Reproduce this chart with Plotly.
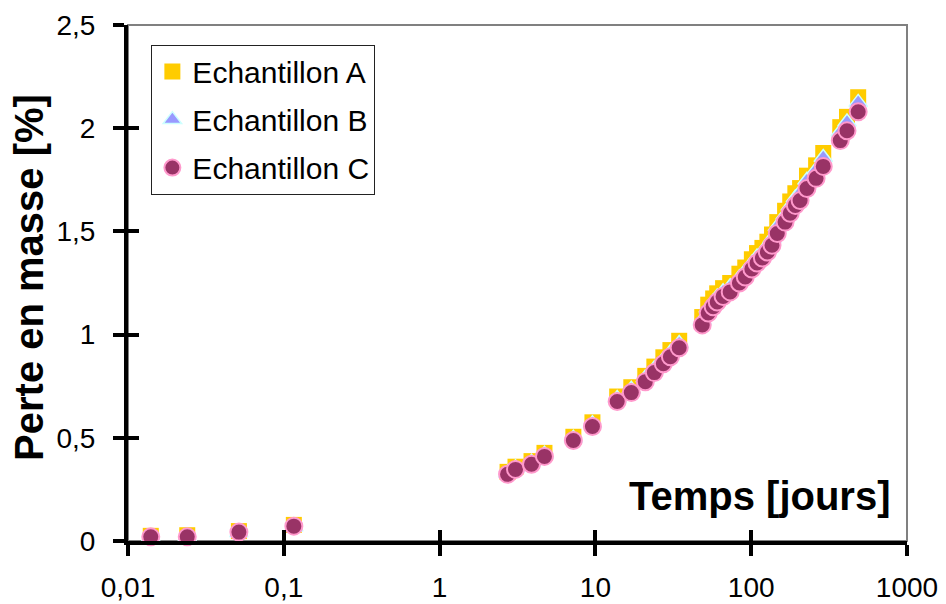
import plotly.graph_objects as go

# ---- data ----
temps = [0.014, 0.024, 0.0515, 0.116, 2.73, 3.07, 3.89, 4.71, 7.22, 9.57,
         13.8, 17.0, 20.9, 23.9, 27.3, 30.3, 34.5, 48.5, 53, 57,
         60.5, 66, 73.3, 84, 91.6, 101, 109, 118, 127, 136,
         147, 165, 178, 192, 206, 228, 261, 290, 373, 412, 486]

perte_A = [0.025, 0.028, 0.048, 0.078, 0.335, 0.36, 0.387, 0.427, 0.505, 0.575,
           0.70, 0.745, 0.80, 0.845, 0.89, 0.925, 0.97, 1.085, 1.145, 1.175,
           1.20, 1.225, 1.25, 1.295, 1.325, 1.365, 1.395, 1.42, 1.45, 1.485,
           1.545, 1.60, 1.645, 1.685, 1.71, 1.77, 1.82, 1.88, 2.005, 2.055, 2.15]

perte_B = [0.018, 0.02, 0.04, 0.068, 0.33, 0.355, 0.382, 0.42, 0.498, 0.568,
           0.69, 0.735, 0.79, 0.835, 0.878, 0.913, 0.957, 1.07, 1.128, 1.158,
           1.182, 1.208, 1.232, 1.276, 1.306, 1.346, 1.376, 1.40, 1.43, 1.465,
           1.523, 1.578, 1.622, 1.662, 1.688, 1.748, 1.798, 1.858, 1.982, 2.03, 2.125]

perte_C = [0.02, 0.02, 0.043, 0.072, 0.323, 0.347, 0.372, 0.41, 0.487, 0.555,
           0.676, 0.719, 0.772, 0.816, 0.859, 0.893, 0.936, 1.047, 1.105, 1.135,
           1.158, 1.185, 1.207, 1.25, 1.279, 1.318, 1.347, 1.371, 1.40, 1.433,
           1.49, 1.545, 1.588, 1.626, 1.65, 1.708, 1.757, 1.815, 1.94, 1.988, 2.08]

series_names = ["Echantillon A", "Echantillon B", "Echantillon C"]

x_tickvals = [0.01, 0.1, 1, 10, 100, 1000]
x_ticktext = ["0,01", "0,1", "1", "10", "100", "1000"]
y_tickvals = [0, 0.5, 1, 1.5, 2, 2.5]
y_ticktext = ["0", "0,5", "1", "1,5", "2", "2,5"]

FONT = "Arial, Liberation Sans, sans-serif"

fig = go.Figure()
fig.add_trace(go.Scatter(x=temps, y=perte_A, mode="markers", name=series_names[0],
                         cliponaxis=False, legendgroup="A",
                         marker=dict(symbol="square", size=16, color="#FFCC00",
                                     line=dict(width=0))))
fig.add_trace(go.Scatter(x=temps, y=perte_B, mode="markers", name=series_names[1],
                         cliponaxis=False, legendgroup="B",
                         marker=dict(symbol="triangle-up", size=16, color="#9999FF",
                                     line=dict(width=1.5, color="#CCFFFF"))))
fig.add_trace(go.Scatter(x=temps, y=perte_C, mode="markers", name=series_names[2],
                         cliponaxis=False, legendgroup="C",
                         marker=dict(symbol="circle", size=17, color="#993366",
                                     line=dict(width=2, color="#FF99CC"))))
# empty trace to activate the overlay axes (inside half of cross ticks)
fig.add_trace(go.Scatter(x=[], y=[], xaxis="x2", yaxis="y2", showlegend=False,
                         hoverinfo="skip"))

axis_common = dict(showgrid=False, zeroline=False, tickcolor="black",
                   tickwidth=4, ticklen=11, automargin=False)

fig.update_layout(
    width=946, height=604,
    margin=dict(l=128, r=39, t=25, b=63),
    paper_bgcolor="white", plot_bgcolor="white",
    font=dict(family=FONT, size=28, color="black"),
    showlegend=True,
    legend=dict(x=0.03, y=0.962, xanchor="left", yanchor="top",
                bgcolor="white", bordercolor="#222222", borderwidth=1,
                tracegroupgap=6, traceorder="grouped",
                font=dict(family=FONT, size=30, color="black")),
    xaxis=dict(type="log", range=[-2, 3], tickvals=x_tickvals, ticktext=x_ticktext,
               ticks="outside", showline=True, linecolor="black", linewidth=4,
               ticklabelstandoff=7, tickfont=dict(size=28), **axis_common),
    yaxis=dict(range=[0, 2.5], tickvals=y_tickvals, ticktext=y_ticktext,
               ticks="outside", showline=True, linecolor="black", linewidth=4,
               ticklabelstandoff=12, tickfont=dict(size=28), **axis_common),
    xaxis2=dict(type="log", range=[-2, 3], tickvals=x_tickvals, overlaying="x",
                anchor="y2", side="bottom", ticks="inside", showline=False,
                showticklabels=False, **axis_common),
    yaxis2=dict(range=[0, 2.5], tickvals=y_tickvals, overlaying="y",
                anchor="x2", side="left", ticks="inside", showline=False,
                showticklabels=False, **axis_common),
    shapes=[dict(type="rect", xref="paper", yref="paper", x0=0, x1=1, y0=0, y1=1,
                 line=dict(color="#808080", width=2), layer="below")],
    annotations=[
        dict(text="<b>Perte en masse [%]</b>", xref="paper", yref="paper",
             x=-0.127, y=0.51, xanchor="center", yanchor="middle",
             textangle=-90, showarrow=False, font=dict(size=40, family=FONT)),
        dict(text="<b>Temps [jours]</b>", xref="paper", yref="paper",
             x=0.982, y=0.087, xanchor="right", yanchor="middle",
             showarrow=False, font=dict(size=40, family=FONT)),
    ],
)

fig.write_html("out.html", config={"displayModeBar": False},
               post_script="document.body.style.margin='0';document.body.style.padding='0';")
